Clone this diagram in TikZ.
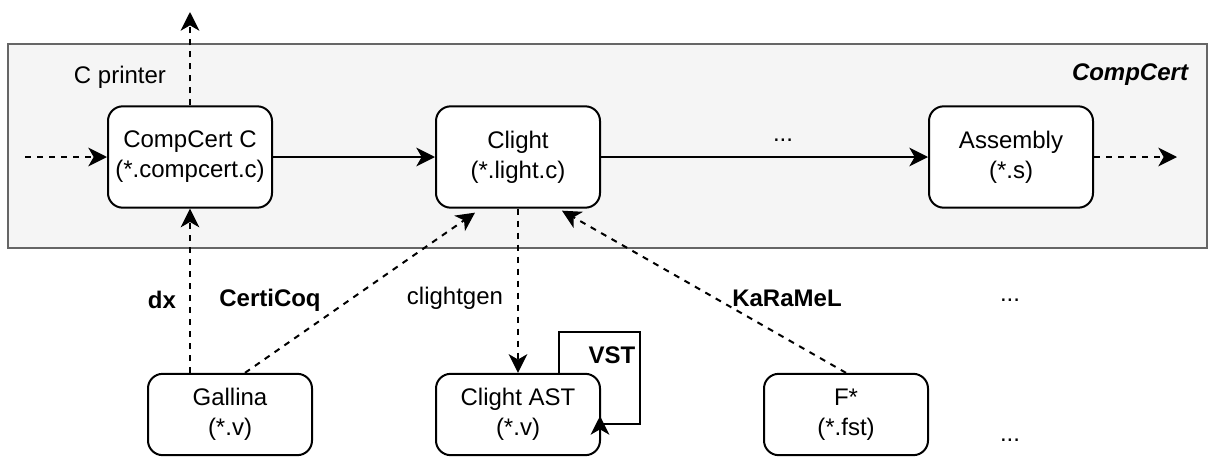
\documentclass[tikz,border=0pt]{standalone}
\usepackage{fontspec}
\setmainfont{Liberation Sans}
\usetikzlibrary{calc,arrows.meta}
\definecolor{boxgrey}{HTML}{F5F5F5}
\definecolor{edgegrey}{HTML}{666666}
\tikzset{
  stage/.style={draw, line width=1.5pt, rounded corners=11pt, fill=white,
    minimum width=123pt, minimum height=76pt, align=center,
    font=\fontsize{18}{22.5}\selectfont},
  srcstage/.style={stage, minimum height=61pt},
  lbl/.style={font=\fontsize{18}{21}\selectfont},
  blbl/.style={font=\fontsize{18}{21}\selectfont\bfseries},
  flow/.style={line width=1.5pt, -{Stealth[length=14pt,width=14pt,inset=4pt]}},
  dflow/.style={flow, dash pattern=on 4.5pt off 4.5pt},
}

\begin{document}
\begin{tikzpicture}[x=0.75pt,y=-0.75pt]
		%%%%% START %%%%%
		\useasboundingbox (0,0) rectangle (1208,457);
		
		\draw[fill=boxgrey, draw=edgegrey, line width=1.5pt] (8,44) rectangle (1207,248);
		\node[font=\fontsize{18}{21}\selectfont\bfseries\itshape] (ccname) at (1130,75) {CompCert};
		
		\node[stage] (cc) at (190,157) {CompCert C\\(*.compcert.c)};
		\node[stage] (clight) at (518,157) {Clight\\(*.light.c)};
		\node[stage] (asm) at (1011,157) {Assembly\\(*.s)};
		
		\node[srcstage] (gallina) at (230,414.5) {Gallina\\(*.v)};
		\node[srcstage] (clast) at (518,414.5) {Clight AST\\(*.v)};
		\node[srcstage] (fstar) at (846,414.5) {F*\\(*.fst)};
		
		\coordinate (in) at (25,157);
		\coordinate (out) at (1177,157);
		\coordinate (top) at (190,12);
		
		\draw[dflow] (in) -- (cc);
		\draw[dflow] (cc) -- (top);
		\draw[flow] (cc) -- (clight);
		\draw[flow] (clight) -- (asm);
		\draw[dflow] (asm) -- (out);
		
		\draw[dflow] (gallina.north -| cc) -- (cc);
		\draw[dflow] ($(gallina.north)+(15,0)$) -- ($(clight.south)+(-43,4)$);
		\draw[dflow] (clight) -- (clast);
		\draw[dflow] (fstar.north) -- ($(clight.south)+(44,2)$);
		
		% VST loop
		\draw[flow] ($(clast.north)+(41,0)$) |- (640,332) |- (600,424) -- (600,416);
		
		\node[lbl] (cprint) at (120,77) {C printer};
		\node[lbl] (dots1) at (783,140) {...};
		\node[blbl] (dx) at (162,300) {dx};
		\node[blbl] (certicoq) at (270,300) {CertiCoq};
		\node[lbl] (clightgen) at (455,298) {clightgen};
		\node[blbl] (karamel) at (787,298) {KaRaMeL};
		\node[blbl] (vst) at (612,355) {VST};
		\node[lbl] (dots2) at (1010,300) {...};
		\node[lbl] (dots3) at (1010,440) {...};
		
		%%%%% END %%%%%
\end{tikzpicture}
\end{document}
